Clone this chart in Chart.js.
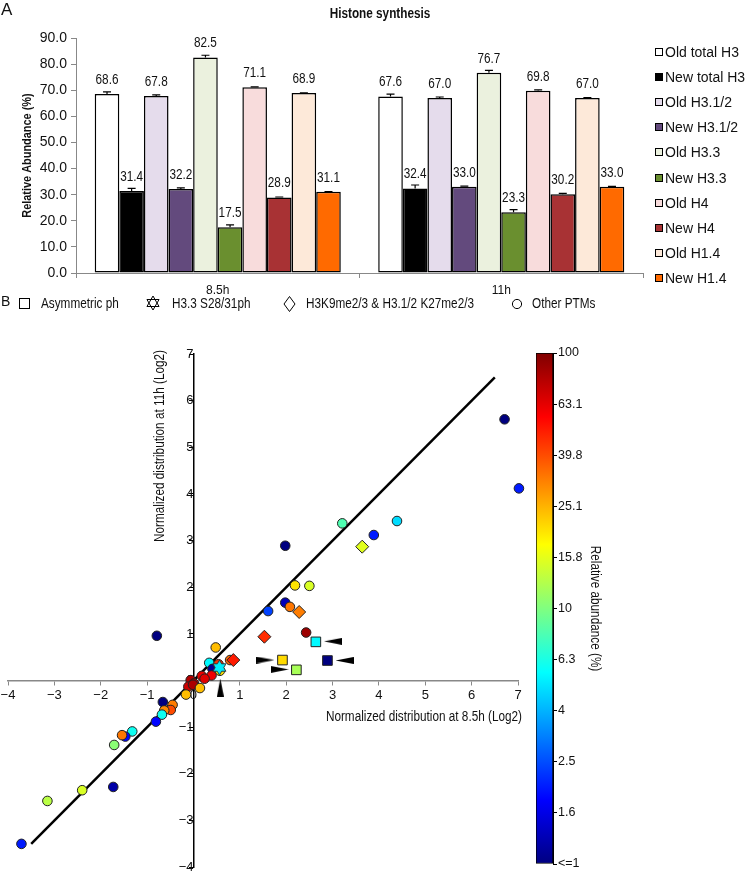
<!DOCTYPE html>
<html>
<head>
<meta charset="utf-8">
<title>Histone synthesis</title>
<script src="https://cdn.jsdelivr.net/npm/chart.js@4.4.1/dist/chart.umd.min.js"></script>
<style>
  html, body { margin: 0; background: #fff; }
  #page { position: relative; width: 745px; height: 878px; overflow: hidden;
          font-family: 'Liberation Sans', Arial, sans-serif; color: #111; }
  #page canvas, #page .abs { position: absolute; }
  .narrow { transform: scaleX(0.84); transform-origin: left center; }
  .letter { font-size: 17px; line-height: 20px; }
  #bar-title { left: 280px; top: 5px; width: 200px; text-align: center; font-weight: bold; font-size: 14px;
               line-height: 16px; transform: scaleX(0.84); transform-origin: center; }
  #bar-legend { left: 655px; top: 0; font-size: 14px; }
  #bar-legend .item { position: absolute; left: 0; white-space: nowrap; line-height: 16px; }
  #bar-legend .sw { display: inline-block; width: 6px; height: 6px; border: 1px solid #000; margin-right: 2px; vertical-align: 1px; }
  #ptm-legend span { position: absolute; white-space: nowrap; font-size: 14px; line-height: 16px; }
  #ptm-legend svg { position: absolute; }
</style>
</head>
<body>
<div id="page">
  <canvas id="bar-chart" width="745" height="303" style="left:0;top:0"></canvas>
  <canvas id="scatter-chart" width="530" height="578" style="left:0;top:300px"></canvas>
  <canvas id="cbar-chart" width="90" height="578" style="left:530px;top:300px"></canvas>

  <div class="abs letter" style="left:1px;top:0">A</div>
  <div class="abs" id="bar-title">Histone synthesis</div>
  <div class="abs" id="bar-legend"></div>

  <div class="abs" id="ptm-legend" style="left:0;top:0">
    <span class="letter" style="left:1px;top:293px">B</span>
    <svg style="left:19px;top:298px" width="11" height="11"><rect x="0.5" y="0.5" width="10" height="10" fill="none" stroke="#000"/></svg>
    <span class="narrow" style="left:41px;top:295px">Asymmetric ph</span>
    <svg style="left:145px;top:295px" width="16" height="16"><polygon points="8,1 14.06,11.5 1.94,11.5" fill="none" stroke="#000"/><polygon points="8,15 14.06,4.5 1.94,4.5" fill="none" stroke="#000"/></svg>
    <span class="narrow" style="left:172px;top:295px">H3.3 S28/31ph</span>
    <svg style="left:283px;top:296px" width="13" height="16"><polygon points="6.5,0.5 12,8 6.5,15.5 1,8" fill="none" stroke="#000"/></svg>
    <span class="narrow" style="left:306px;top:295px">H3K9me2/3 &amp; H3.1/2 K27me2/3</span>
    <svg style="left:511px;top:298px" width="12" height="12"><circle cx="6" cy="6" r="4.6" fill="none" stroke="#000"/></svg>
    <span class="narrow" style="left:532px;top:295px">Other PTMs</span>
  </div>
</div>

<script>
/* Panel A: histone synthesis, panel B: PTM distribution 8.5h vs 11h */

const FONT = "'Liberation Sans', Arial, sans-serif";
Chart.defaults.font.family = FONT;
Chart.defaults.color = '#111';

// ---- panel A data ----
const timepoints   = ['8.5h', '11h'];
const seriesNames  = ['Old total H3', 'New total H3', 'Old H3.1/2', 'New H3.1/2', 'Old H3.3',
                      'New H3.3', 'Old H4', 'New H4', 'Old H1.4', 'New H1.4'];
const seriesColors = ['#ffffff', '#000000', '#e5dcec', '#634a7d', '#ebf1de',
                      '#6a8f2f', '#f8dcdc', '#a83234', '#fde9d9', '#ff6a00'];
const abundance85  = [68.6, 31.4, 67.8, 32.2, 82.5, 17.5, 71.1, 28.9, 68.9, 31.1];
const abundance11  = [67.6, 32.4, 67.0, 33.0, 76.7, 23.3, 69.8, 30.2, 67.0, 33.0];
const err85        = [0.75, 1.0, 0.4, 0.4, 0.9, 0.9, 0.2, 0.2, 0.1, 0.1];
const err11        = [0.9, 1.3, 0.4, 0.3, 0.9, 1.0, 0.3, 0.3, 0.2, 0.2];

// ---- panel B data: [log2 dist 8.5h, log2 dist 11h, relative abundance %] ----
const asymPh = [[2.64, 0.83, 5.5], [1.92, 0.44, 21], [2.22, 0.23, 12], [2.89, 0.43, 1.0]];
const h33ph  = [[0.56, 0.28, 5.2]];
const k9k27  = [[3.64, 2.87, 15.5], [2.28, 1.47, 32], [1.53, 0.94, 46], [0.86, 0.44, 50]];
const otherPtms = [
  [6.71, 5.60, 1.0], [7.02, 4.12, 2.0], [4.39, 3.42, 4.8], [3.89, 3.12, 2.0], [3.21, 3.37, 8],
  [1.98, 2.89, 1.0], [2.19, 2.04, 20], [2.50, 2.03, 15], [1.98, 1.67, 1.3], [1.61, 1.49, 2.4],
  [2.08, 1.58, 33], [2.43, 1.03, 88], [-0.79, 0.96, 1.0], [0.48, 0.71, 24], [0.34, 0.38, 5.5],
  [0.41, 0.25, 1.1], [0.79, 0.44, 35], [0.54, 0.35, 45], [0.57, 0.21, 20], [0.39, 0.11, 60],
  [0.18, 0.10, 62], [0.24, 0.04, 65], [-0.06, 0.01, 80], [0.01, -0.06, 78], [-0.11, -0.13, 70],
  [-0.01, -0.09, 82], [0.14, -0.16, 24], [-0.16, -0.30, 24], [-0.66, -0.46, 1.0], [-0.45, -0.52, 32],
  [-0.49, -0.63, 40], [-0.63, -0.64, 30], [-0.68, -0.73, 6], [-0.81, -0.88, 1.8], [-1.32, -1.09, 6],
  [-1.47, -1.20, 1.8], [-1.54, -1.17, 33], [-1.71, -1.38, 10.5], [-1.73, -2.28, 1.2], [-2.40, -2.35, 15],
  [-3.15, -2.58, 13], [-3.71, -3.50, 2.0]
];
const fitLine    = [[-3.5, -3.5], [6.5, 6.5]];
// arrowheads marking asymmetric points: [x, y, direction in degrees]
const arrowMarks = [[3.01, 0.84, 180], [1.55, 0.44, 0], [1.86, 0.24, 0], [3.26, 0.43, 180], [0.58, -0.15, -90]];
const axisTicks  = [-4, -3, -2, -1, 0, 1, 2, 3, 4, 5, 6, 7];

// colour bar: log10 of relative abundance, 0 (<=1 %) .. 2 (100 %)
const cbarRange      = [0, 2];
const cbarTickLabels = ['<=1', '1.6', '2.5', '4', '6.3', '10', '15.8', '25.1', '39.8', '63.1', '100'];

// ---- helpers ----
function jet(t) {
  const c = v => Math.round(255 * Math.min(1, Math.max(0, v)));
  return 'rgb(' + c(1.5 - Math.abs(4 * t - 3)) + ',' + c(1.5 - Math.abs(4 * t - 2)) + ',' + c(1.5 - Math.abs(4 * t - 1)) + ')';
}
function abundanceColor(a) {
  const t = (Math.log10(Math.max(a, 1)) - cbarRange[0]) / (cbarRange[1] - cbarRange[0]);
  return jet(Math.min(1, Math.max(0, t)));
}
const fmtTick = v => (v < 0 ? '\u2212' + Math.abs(v) : String(v));
const toPts = rows => rows.map(([x, y, a]) => ({ x, y, a }));

// condensed text (no narrow face installed, so squeeze it horizontally)
function narrowText(ctx, text, x, y, opt) {
  ctx.save();
  ctx.translate(x, y);
  if (opt.rotate) ctx.rotate(opt.rotate);
  ctx.scale(0.84, 1);
  ctx.font = (opt.weight || 'normal') + ' ' + opt.size + 'px ' + FONT;
  ctx.textAlign = opt.align || 'center';
  ctx.textBaseline = 'middle';
  ctx.fillStyle = '#111';
  ctx.fillText(text, 0, 0);
  ctx.restore();
}

function makeArrow() {
  const c = document.createElement('canvas');
  c.width = 18; c.height = 7;
  const g = c.getContext('2d');
  g.fillStyle = '#000';
  g.beginPath(); g.moveTo(0, 0); g.lineTo(18, 3.5); g.lineTo(0, 7); g.closePath(); g.fill();
  return c;
}
const starCache = {};
function starImage(color) {
  if (starCache[color]) return starCache[color];
  const c = document.createElement('canvas');
  c.width = 17; c.height = 17;
  const g = c.getContext('2d');
  const R = 7.5, r = R / Math.sqrt(3);
  g.beginPath();
  for (let k = 0; k < 12; k++) {
    const ang = -Math.PI / 2 + k * Math.PI / 6;
    const rad = k % 2 ? r : R;
    g.lineTo(8.5 + rad * Math.cos(ang), 8.5 + rad * Math.sin(ang));
  }
  g.closePath();
  g.fillStyle = color; g.fill();
  g.strokeStyle = '#333'; g.lineWidth = 1; g.stroke();
  starCache[color] = c;
  return c;
}

// ---- bar legend (panel A) ----
const legendBox = document.getElementById('bar-legend');
seriesNames.forEach((name, i) => {
  const item = document.createElement('div');
  item.className = 'item';
  item.style.top = (52 + i * 25.1 - 8) + 'px';
  item.innerHTML = '<span class="sw" style="background:' + seriesColors[i] + '"></span>' + name;
  legendBox.appendChild(item);
});

// error bars, value labels and the y title
const barExtras = {
  id: 'barExtras',
  afterDatasetsDraw(chart) {
    const { ctx, chartArea, scales: { y } } = chart;
    ctx.save();
    chart.data.datasets.forEach((ds, d) => {
      chart.getDatasetMeta(d).data.forEach((bar, j) => {
        const top = y.getPixelForValue(ds.data[j] + ds.errors[j]);
        ctx.strokeStyle = '#000';
        ctx.lineWidth = 1.2;
        ctx.beginPath();
        ctx.moveTo(bar.x, bar.y); ctx.lineTo(bar.x, top);
        ctx.moveTo(bar.x - 4, top); ctx.lineTo(bar.x + 4, top);
        ctx.stroke();
        narrowText(ctx, ds.data[j].toFixed(1), bar.x, bar.y - 14, { size: 14 });
      });
    });
    ctx.restore();
    narrowText(ctx, 'Relative Abundance (%)', 27, (chartArea.top + chartArea.bottom) / 2,
               { size: 13, weight: 'bold', rotate: -Math.PI / 2 });
  }
};

new Chart(document.getElementById('bar-chart'), {
  type: 'bar',
  data: {
    labels: timepoints,
    datasets: seriesNames.map((name, i) => ({
      label: name,
      data: [abundance85[i], abundance11[i]],
      errors: [err85[i], err11[i]],
      backgroundColor: seriesColors[i],
      borderColor: '#000',
      borderWidth: 1.5,
      borderSkipped: false,
      categoryPercentage: 0.868,
      barPercentage: 1,
    })),
  },
  options: {
    responsive: false,
    animation: false,
    layout: { padding: { top: 38, right: 102, bottom: 0, left: 0 } },
    plugins: { legend: { display: false }, tooltip: { enabled: false } },
    scales: {
      x: {
        grid:   { offset: true, drawOnChartArea: false, tickLength: 5, color: '#888' },
        border: { color: '#888' },
        ticks:  { padding: 5, font: { size: 12 } },
        afterFit: s => { s.height = 30; },
      },
      y: {
        min: 0, max: 90,
        grid:   { drawOnChartArea: false, tickLength: 5, color: '#888' },
        border: { color: '#888' },
        ticks:  { stepSize: 10, padding: 4, font: { size: 14 }, callback: v => v.toFixed(1) },
        afterFit: s => { s.width = 76; },
      },
    },
  },
  plugins: [barExtras],
});

// ---- scatter (panel B) ----
const scatterTitles = {
  id: 'scatterTitles',
  afterDraw(chart) {
    const { ctx, chartArea, scales: { x, y } } = chart;
    narrowText(ctx, 'Normalized distribution at 8.5h (Log2)', chartArea.right + 4, y.getPixelForValue(0) + 37,
               { size: 14, align: 'right' });
    narrowText(ctx, 'Normalized distribution at 11h (Log2)', x.getPixelForValue(0) - 33.5, chartArea.top - 4,
               { size: 14, align: 'right', rotate: -Math.PI / 2 });
  }
};

const arrowImg = makeArrow();
const colorOf = c => abundanceColor(c.raw.a);

new Chart(document.getElementById('scatter-chart'), {
  type: 'scatter',
  data: {
    datasets: [
      { label: 'arrows', data: arrowMarks.map(([x, y, r]) => ({ x, y, r })),
        pointStyle: arrowImg, pointRadius: 6, pointRotation: c => c.raw.r },
      { label: 'H3.3 S28/31ph', data: toPts(h33ph),
        pointStyle: c => starImage(colorOf(c)), pointRadius: 7 },
      { label: 'Asymmetric ph', data: toPts(asymPh), pointStyle: 'rect', pointRadius: 6.8,
        pointBackgroundColor: colorOf, pointBorderColor: '#222', pointBorderWidth: 1 },
      { label: 'H3K9me2/3 & H3.1/2 K27me2/3', data: toPts(k9k27), pointStyle: 'rectRot', pointRadius: 6.5,
        pointBackgroundColor: colorOf, pointBorderColor: '#222', pointBorderWidth: 1 },
      { label: 'Other PTMs', data: toPts(otherPtms), pointStyle: 'circle', pointRadius: 4.8, clip: false,
        pointBackgroundColor: colorOf, pointBorderColor: '#222', pointBorderWidth: 1 },
      { label: 'y = x', data: fitLine.map(([x, y]) => ({ x, y })), showLine: true,
        borderColor: '#000', borderWidth: 2.5, pointRadius: 0 },
    ],
  },
  options: {
    responsive: false,
    animation: false,
    layout: { padding: { left: 4, right: 12, top: 54, bottom: 10 } },
    plugins: { legend: { display: false }, tooltip: { enabled: false } },
    scales: {
      x: {
        type: 'linear', min: axisTicks[0], max: axisTicks[axisTicks.length - 1],
        position: { y: 0 },
        afterBuildTicks: s => { s.ticks = axisTicks.map(v => ({ value: v })); },
        ticks:  { autoSkip: false, maxRotation: 0, padding: 3, callback: fmtTick, font: { size: 13 } },
        grid:   { drawOnChartArea: false, tickLength: 4, color: '#888' },
        border: { color: '#888', width: 1.5 },
        afterFit: s => { s.paddingLeft = 0; s.paddingRight = 0; },
      },
      y: {
        type: 'linear', min: axisTicks[0], max: axisTicks[axisTicks.length - 1],
        position: { x: 0 },
        afterBuildTicks: s => { s.ticks = axisTicks.map(v => ({ value: v })); },
        ticks:  { autoSkip: false, padding: 3, callback: fmtTick, font: { size: 13 } },
        grid:   { drawOnChartArea: false, tickLength: 4, color: '#000' },
        border: { color: '#000', width: 1.5 },
      },
    },
  },
  plugins: [scatterTitles],
});

// ---- colour bar ----
function jetGradient(chart) {
  const { ctx, chartArea } = chart;
  if (!chartArea) return null;
  const g = ctx.createLinearGradient(0, chartArea.bottom, 0, chartArea.top);
  for (let k = 0; k <= 40; k++) g.addColorStop(k / 40, jet(k / 40));
  return g;
}

const cbarTitle = {
  id: 'cbarTitle',
  afterDraw(chart) {
    const { ctx, chartArea } = chart;
    narrowText(ctx, 'Relative abundance (%)', chartArea.right + 42, (chartArea.top + chartArea.bottom) / 2,
               { size: 14, rotate: Math.PI / 2 });
  }
};

new Chart(document.getElementById('cbar-chart'), {
  type: 'bar',
  data: {
    labels: [''],
    datasets: [{
      data: [cbarRange],
      backgroundColor: c => jetGradient(c.chart),
      borderColor: '#000',
      borderWidth: 1,
      borderSkipped: false,
      categoryPercentage: 1,
      barPercentage: 1,
    }],
  },
  options: {
    responsive: false,
    animation: false,
    layout: { padding: { left: 6, right: 7, top: 53, bottom: 14 } },
    plugins: { legend: { display: false }, tooltip: { enabled: false } },
    scales: {
      x: { display: false },
      y: {
        position: 'right', min: cbarRange[0], max: cbarRange[1],
        ticks:  { stepSize: 0.2, padding: 1, font: { size: 12.5 },
                  callback: v => cbarTickLabels[Math.round(v / 0.2)] },
        grid:   { drawOnChartArea: false, tickLength: 4, color: '#000' },
        border: { color: '#000' },
        afterFit: s => { s.width = 60; },
      },
    },
  },
  plugins: [cbarTitle],
});
</script>
</body>
</html>
